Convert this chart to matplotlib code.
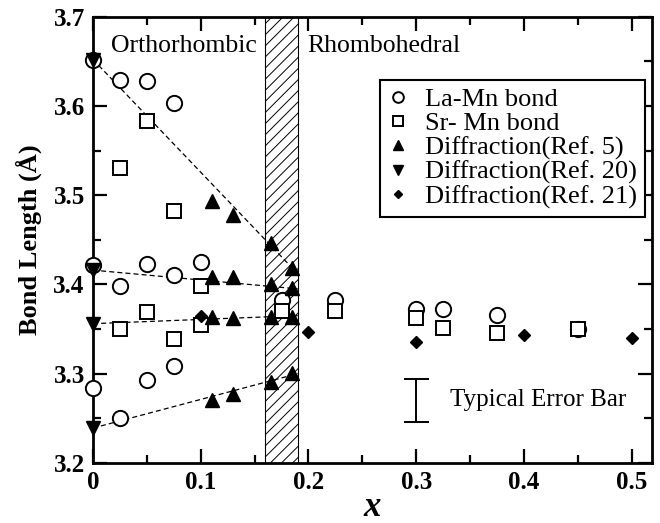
import matplotlib
matplotlib.use('Agg')
from matplotlib import pyplot as plt

plt.rcParams['font.family'] = ['Liberation Serif', 'DejaVu Serif']
plt.rcParams['hatch.linewidth'] = 0.7

# La-Mn bond (open circles)
la_x = [0, 0.025, 0.05, 0.075,
        0, 0.025, 0.05, 0.075, 0.1,
        0, 0.025, 0.05, 0.075,
        0.175, 0.225, 0.3, 0.325, 0.375, 0.45]
la_y = [3.652, 3.629, 3.628, 3.603,
        3.422, 3.398, 3.423, 3.411, 3.425,
        3.284, 3.250, 3.293, 3.309,
        3.383, 3.383, 3.372, 3.372, 3.366, 3.350]

# Sr-Mn bond (open squares)
sr_x = [0.025, 0.05, 0.075, 0.1,
        0.025, 0.05, 0.075, 0.1,
        0.175, 0.225, 0.3, 0.325, 0.375, 0.45]
sr_y = [3.530, 3.583, 3.482, 3.398,
        3.350, 3.369, 3.339, 3.355,
        3.370, 3.370, 3.362, 3.351, 3.345, 3.350]

# Diffraction Ref. 5 (up triangles)
r5_x = [0.11, 0.13, 0.165, 0.185,
        0.11, 0.13, 0.165, 0.185,
        0.11, 0.13, 0.165, 0.185,
        0.11, 0.13, 0.165, 0.185]
r5_y = [3.493, 3.478, 3.446, 3.418,
        3.408, 3.408, 3.401, 3.396,
        3.364, 3.362, 3.364, 3.364,
        3.271, 3.277, 3.291, 3.301]

# Diffraction Ref. 20 (down triangles)
r20_x = [0, 0, 0, 0]
r20_y = [3.652, 3.416, 3.356, 3.239]

# Diffraction Ref. 21 (diamonds)
r21_x = [0.1, 0.2, 0.3, 0.4, 0.5]
r21_y = [3.365, 3.347, 3.336, 3.343, 3.340]

# dashed guide lines (start at x=0, end at x=0.19)
line_x = [0, 0.19]
line_y0 = [3.652, 3.416, 3.356, 3.239]
line_y1 = [3.412, 3.395, 3.365, 3.300]

fig = plt.figure(figsize=(6.6, 5.23), dpi=100)
ax = fig.add_axes([0.141, 0.115, 0.847, 0.853])

ax.axvspan(0.16, 0.19, facecolor='none', edgecolor='black', hatch='///', linewidth=0.8, zorder=1)

for a, b in zip(line_y0, line_y1):
    ax.plot(line_x, [a, b], color='black', linestyle=(0, (4, 2.5)), linewidth=0.9, zorder=2)

ax.plot(la_x, la_y, 'o', ms=11, mfc='white', mec='black', mew=1.4, ls='none', label='La-Mn bond', zorder=3, clip_on=False)
ax.plot(sr_x, sr_y, 's', ms=10, mfc='white', mec='black', mew=1.4, ls='none', label='Sr- Mn bond', zorder=4, clip_on=False)
ax.plot(r5_x, r5_y, '^', ms=10, color='black', ls='none', label='Diffraction(Ref. 5)', zorder=5, clip_on=False)
ax.plot(r20_x, r20_y, 'v', ms=10, color='black', ls='none', label='Diffraction(Ref. 20)', zorder=5, clip_on=False)
ax.plot(r21_x, r21_y, 'D', ms=6.5, color='black', ls='none', label='Diffraction(Ref. 21)', zorder=5, clip_on=False)

# typical error bar
ax.errorbar([0.3], [3.27], yerr=[0.024], color='black', capsize=9, elinewidth=1.4, capthick=1.4, fmt='none')
ax.text(0.331, 3.27, 'Typical Error Bar', fontsize=18, va='center', ha='left')

ax.text(0.017, 3.667, 'Orthorhombic', fontsize=18.5, va='center', ha='left')
ax.text(0.199, 3.667, 'Rhombohedral', fontsize=18.5, va='center', ha='left')

ax.set_xlim(0, 0.519)
ax.set_ylim(3.2, 3.7)
ax.set_xticks([0, 0.1, 0.2, 0.3, 0.4, 0.5])
ax.set_xticklabels(['0', '0.1', '0.2', '0.3', '0.4', '0.5'])
ax.set_xticks([0.05, 0.15, 0.25, 0.35, 0.45], minor=True)
ax.set_yticks([3.2, 3.3, 3.4, 3.5, 3.6, 3.7])
ax.set_yticks([3.25, 3.35, 3.45, 3.55, 3.65], minor=True)
ax.tick_params(which='both', direction='in', top=True, right=True, labelsize=18, width=1.6, pad=6)
ax.tick_params(which='major', length=10)
ax.tick_params(which='minor', length=6)
for lab in ax.get_xticklabels() + ax.get_yticklabels():
    lab.set_fontweight('bold')
for s in ax.spines.values():
    s.set_linewidth(2)

ax.set_xlabel('x', fontsize=25, fontweight='bold', fontstyle='italic', labelpad=-2)
ax.set_ylabel('Bond Length (Å)', fontsize=19, fontweight='bold', labelpad=8)

leg = ax.legend(loc='upper left', bbox_to_anchor=(0.513, 0.858), fontsize=19, frameon=True, fancybox=False,
                edgecolor='black', framealpha=1, handlelength=0.8, handletextpad=0.6, labelspacing=0.02,
                borderpad=0.3, markerscale=0.7, borderaxespad=0)
leg.get_frame().set_linewidth(1.5)

plt.savefig('out.png', dpi=100)
